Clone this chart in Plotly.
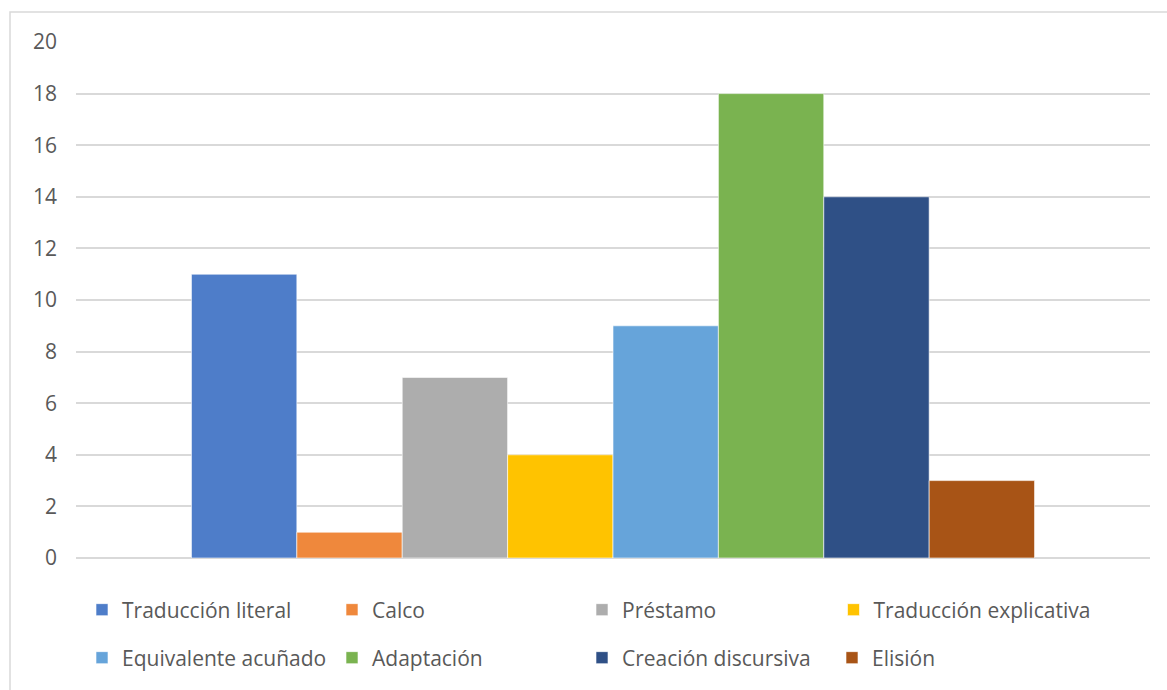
import plotly.graph_objects as go

categories = [""]
series_names = ["Traducción literal", "Calco", "Préstamo", "Traducción explicativa",
                "Equivalente acuñado", "Adaptación", "Creación discursiva", "Elisión"]
series_values = [11, 1, 7, 4, 9, 18, 14, 3]
series_colors = ["#4E7DC9", "#EF883C", "#ADADAD", "#FFC300",
                 "#66A4DA", "#7AB350", "#2F5086", "#A85416"]
y_ticks = [0, 2, 4, 6, 8, 10, 12, 14, 16, 18, 20]

W, H = 1167, 690
L, R, T, B = 76, 17, 42, 132
pw, ph = W - L - R, H - T - B

def px(x):
    return (x - L) / pw

def py(y):
    return (H - B - y) / ph

legend_ids = ["legend", "legend", "legend", "legend3",
              "legend2", "legend2", "legend2", "legend2"]

fig = go.Figure()
for name, val, col, lg in zip(series_names, series_values, series_colors, legend_ids):
    fig.add_trace(go.Bar(
        x=categories, y=[val], name=name,
        marker=dict(color=col, line=dict(color="rgba(255,255,255,0.6)", width=1)),
        legend=lg,
    ))

font_family = "Open Sans, Liberation Sans, sans-serif"
legend_common = dict(
    orientation="h", xanchor="left", yanchor="middle",
    font=dict(family=font_family, size=21, color="#595959"),
    bgcolor="rgba(0,0,0,0)", borderwidth=0, itemclick=False,
)

fig.update_layout(
    width=W, height=H,
    margin=dict(l=L, r=R, t=T, b=B, pad=0),
    paper_bgcolor="white", plot_bgcolor="white",
    barmode="group", bargap=0.215, bargroupgap=0,
    font=dict(family=font_family, color="#595959"),
    xaxis=dict(showticklabels=False, showgrid=False, zeroline=False, showline=False, fixedrange=True),
    yaxis=dict(range=[0, 20], tickvals=y_ticks, showgrid=True, gridcolor="#D9D9D9", gridwidth=1.5,
               zeroline=True, zerolinecolor="#D9D9D9", zerolinewidth=1.5, showline=False,
               tickfont=dict(family=font_family, size=21, color="#595959"),
               ticks="", ticklabelstandoff=18),
    legend=dict(x=px(82), y=py(610), entrywidth=205, entrywidthmode="pixels", **legend_common),
    legend2=dict(x=px(82), y=py(658), entrywidth=205, entrywidthmode="pixels", **legend_common),
    legend3=dict(x=px(82 + 3 * 250.5), y=py(610), **legend_common),
    showlegend=True,
    shapes=[
        dict(type="rect", xref="paper", yref="paper",
             x0=px(10), x1=px(1185), y0=py(700), y1=py(12),
             line=dict(color="#D9D9D9", width=1.5), fillcolor="rgba(0,0,0,0)", layer="below"),
    ],
)

fig.write_html("out.html")
